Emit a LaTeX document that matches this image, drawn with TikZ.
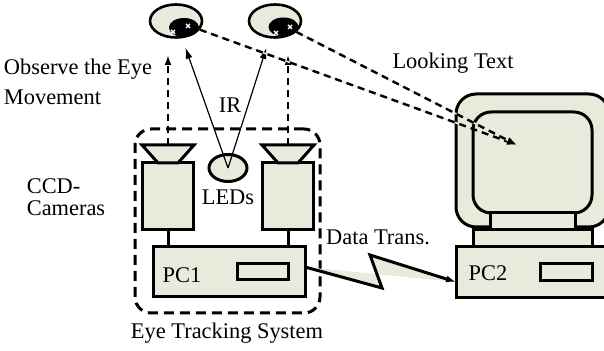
\documentclass[tikz,border=0pt]{standalone}
\usepackage{fontspec}
\setmainfont{Liberation Serif}
\usetikzlibrary{arrows.meta,positioning,shapes.geometric}
\definecolor{devfill}{RGB}{233,233,220}

\begin{document}
\begin{tikzpicture}[x=0.5pt,y=-0.5pt,>=Latex,
  every node/.style={font=\fontsize{11.2}{13.4}\selectfont},
  devbox/.style={draw=black,line width=1.5pt,fill=devfill,rectangle,inner sep=0pt,outer sep=0pt},
  wire/.style={line width=1.5pt},
  eyeball/.style={draw=black,line width=1.3pt,fill=devfill,ellipse,inner sep=0pt,minimum width=26pt,minimum height=16.5pt},
  pupil/.style={fill=black,ellipse,inner sep=0pt,minimum width=15pt,minimum height=9.5pt},
  glint/.style={white,line width=0.7pt},
  sight/.style={line width=1.2pt,dash pattern=on 3.5pt off 2.5pt,-{Latex[length=5pt,width=3.5pt]}},
  gaze/.style={sight,preaction={draw=devfill,solid,line width=0.8pt,-}},
  ray/.style={line width=0.6pt,-{Latex[length=5.5pt,width=3.5pt]}},
  frame/.style={draw=black,line width=1.5pt,dash pattern=on 5pt off 3pt,rounded corners=8pt,inner sep=0pt,minimum width=92.5pt,minimum height=92pt},
  lbl/.style={inner sep=0pt,align=left}]
\useasboundingbox (0,0) rectangle (604,351);

% eye tracking system frame
\node[frame] (etsys) at (227.5,221) {};
\node[lbl] at (227,333) {Eye Tracking System};

% eyes
\node[eyeball] (eyeL) at (176,21) {};
\node[pupil] (pupilL) at (184,27.5) {};
\draw[glint] (186,24)--(190,28) (186,28)--(190,24) (171,30)--(175,34) (171,34)--(175,30);
\node[eyeball] (eyeR) at (275,21) {};
\node[pupil] (pupilR) at (283.5,27) {};
\draw[glint] (288,25)--(292,29) (288,29)--(292,25) (274,31)--(278,35) (274,35)--(278,31);

% cameras
\node[devbox,minimum width=25.5pt,minimum height=33.5pt] (camL) at (168,196.5) {};
\draw[devbox] (142,145) -- (194,145) -- (178,163) -- (158,163) -- cycle;
\coordinate (lensL) at (168,145);
\node[devbox,minimum width=25.5pt,minimum height=33.5pt] (camR) at (288,196.5) {};
\draw[devbox] (262,145) -- (314,145) -- (298,163) -- (278,163) -- cycle;
\coordinate (lensR) at (288,145);

% LEDs
\node[draw=black,line width=1.5pt,fill=devfill,ellipse,inner sep=0pt,minimum width=19pt,minimum height=13.5pt] (ledN) at (228,168) {};
\node[lbl] at (228,197) {LEDs};

% PC1
\node[devbox,minimum width=76pt,minimum height=25pt] (pcA) at (229,272) {};
\node[lbl] at (182,275) {PC1};
\node[devbox,minimum width=25.5pt,minimum height=8pt] (slotA) at (262.5,272) {};
\draw[wire] (camL) -- (camL |- pcA.north);
\draw[wire] (camR) -- (camR |- pcA.north);

% PC2 with monitor
\node[devbox,rounded corners=10pt,minimum width=76.5pt,minimum height=66.5pt] (monitor) at (532.5,160.5) {};
\node[devbox,rounded corners=9pt,minimum width=59.5pt,minimum height=50.5pt] (screen) at (532.5,162.5) {};
\node[devbox,minimum width=42.5pt,minimum height=8.5pt] (neck) at (532.5,221.5) {};
\node[devbox,minimum width=59.5pt,minimum height=8.5pt] (stand) at (532.5,238.5) {};
\node[devbox,minimum width=76.5pt,minimum height=25.5pt] (pcB) at (532.5,272.5) {};
\node[lbl] at (488,273) {PC2};
\node[devbox,minimum width=26pt,minimum height=8.5pt] (slotB) at (566,272.5) {};
\coordinate (target) at (517,145);

% data link
\coordinate (linkA) at (382,288);
\coordinate (linkB) at (370,255);
\fill[devfill] ([yshift=2.5pt]pcA.east) -- (linkA) -- (linkB) -- ([yshift=-4.75pt]pcB.west) -- cycle;
\draw[wire,-{Latex[length=5pt,width=3.5pt]}] ([yshift=2.5pt]pcA.east) -- (linkA) -- (linkB) -- ([yshift=-4.75pt]pcB.west);
\node[lbl] at (378,237) {Data Trans.};

% cameras watching the eyes
\coordinate (obsL) at (168,55);
\coordinate (obsR) at (288,55);
\draw[sight] (lensL) -- (obsL);
\draw[sight] (lensR) -- (obsR);
\node[lbl] at (78,82) {Observe the Eye\\[1.5pt]Movement};

% infrared light
\draw[ray,shorten >=5pt] (ledN.center) -- (eyeL);
\draw[ray,shorten >=5pt] (ledN.center) -- (eyeR);
\node[lbl] at (230,105) {IR};

% gaze onto the screen
\draw[gaze] (eyeL) -- (target);
\draw[gaze] (eyeR) -- (target);
\node[lbl] at (453,63) {Looking Text};

\node[lbl,font=\fontsize{11.2}{11}\selectfont] at (66,197.5) {CCD-\\Cameras};
\end{tikzpicture}
\end{document}
